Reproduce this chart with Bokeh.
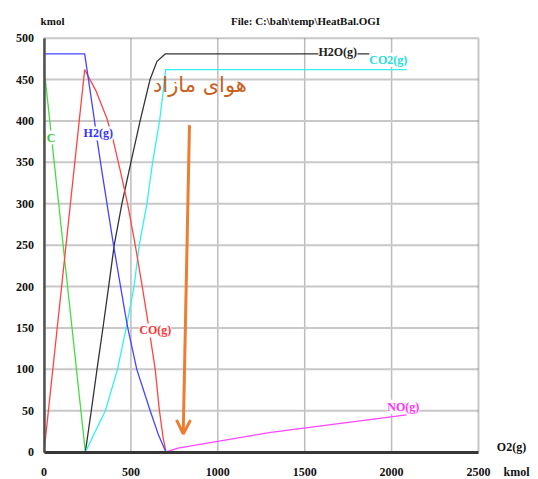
from bokeh.plotting import figure
from bokeh.models import Range1d, FixedTicker, Label, Arrow, OpenHead, BoxAnnotation
from bokeh.embed import file_html
from bokeh.resources import INLINE

# ---- data (kmol vs O2(g) kmol) ----
h2_x = [0, 234, 286, 305, 334, 400, 460, 481, 534, 611, 660, 702, 2086]
h2_y = [481, 481, 407, 378, 338, 250, 176, 151, 100, 50, 20, 0, 0]

co_x = [0, 234, 300, 362, 400, 439, 481, 525, 563, 600, 640, 663, 685, 702, 2086]
co_y = [0, 462, 436, 403, 375, 340, 300, 250, 203, 155, 100, 52, 18, 0, 0]

c_x = [0, 238, 2086]
c_y = [465, 0, 0]

h2o_x = [0, 238, 272, 305, 339, 372, 404, 448, 500, 553, 610, 650, 697, 1585]
h2o_y = [0, 0, 50, 100, 150, 200, 250, 300, 350, 400, 450, 472, 481, 481]
h2o_tail_x = [1803, 1875]
h2o_tail_y = [481, 481]

co2_x = [0, 238, 295, 353, 423, 473, 518, 548, 592, 625, 665, 690, 700, 2086]
co2_y = [0, 0, 25, 50, 100, 150, 200, 250, 300, 350, 400, 443, 462, 462]

no_x = [0, 702, 770, 1305, 2086]
no_y = [0, 0, 5, 24, 45]

x_min, x_max = 0, 2500
y_min, y_max = 0, 500
x_ticks = [0, 500, 1000, 1500, 2000, 2500]
y_ticks = [0, 50, 100, 150, 200, 250, 300, 350, 400, 450, 500]

# series labels: (text, x, y, color)
series_labels = [
    ("C", 41, 380, "#33cc33"),
    ("H2(g)", 312, 385, "#3333ff"),
    ("CO(g)", 640, 147, "#ff3333"),
    ("NO(g)", 2067, 55, "#ff33ff"),
    ("H2O(g)", 1690, 483, "#222222"),
    ("CO2(g)", 1981, 474, "#22e0e0"),
]

arrow_start = (837, 395)
arrow_end = (801, 22)
persian_text = "هوای مازاد"
persian_pos = (897, 443)

title_text = "File: C:\\bah\\temp\\HeatBal.OGI"
# texts around the plot box, in data units: (text, x, y, size)
outer_texts = [
    (title_text, 1505, 521, "11px"),
    ("kmol", 49, 521, "11px"),
    ("O2(g)", 2690, 6, "12px"),
    ("kmol", 2719, -24, "12px"),
]

p = figure(width=537, height=478, min_border=0,
           x_range=Range1d(-250.3, 2839.5), y_range=Range1d(-31.8, 545.5),
           output_backend="svg", toolbar_location=None)

p.outline_line_color = None
p.background_fill_color = "white"
p.border_fill_color = "white"
p.grid.visible = False

# grid lines drawn from the tick lists
vx = x_ticks[1:-1]
p.segment(x0=vx, y0=[y_min] * len(vx), x1=vx, y1=[y_max] * len(vx),
          line_color="#bdbdbd", line_width=1.5, level="underlay")
hy = y_ticks[1:-1]
p.segment(x0=[x_min] * len(hy), y0=hy, x1=[x_max] * len(hy), y1=hy,
          line_color="#c8c8c8", line_width=2, level="underlay")

for ax, ticks, bnds in ((p.xaxis[0], x_ticks, (x_min, x_max)),
                        (p.yaxis[0], y_ticks, (y_min, y_max))):
    ax.fixed_location = 0
    ax.bounds = bnds
    ax.ticker = FixedTicker(ticks=ticks)
    ax.major_tick_in = 0
    ax.major_tick_out = 0
    ax.minor_tick_in = 0
    ax.minor_tick_out = 0
    ax.major_label_text_font = "Liberation Serif"
    ax.major_label_text_font_style = "bold"
    ax.major_label_text_font_size = "12px"
    ax.major_label_text_color = "#111111"

p.yaxis.axis_line_color = "#555555"
p.yaxis.axis_line_width = 2.5
p.yaxis.major_label_standoff = 10
p.xaxis.axis_line_color = "#333333"
p.xaxis.axis_line_width = 3
p.xaxis.major_label_standoff = 16

p.add_layout(BoxAnnotation(left=x_min, right=x_max, bottom=y_min, top=y_max,
                           fill_alpha=0, line_color="#444444", line_width=2))

lw = 1.3
p.line(c_x, c_y, line_color="#44dd44", line_width=lw)
p.line(h2o_x, h2o_y, line_color="#333333", line_width=lw)
p.line(h2o_tail_x, h2o_tail_y, line_color="#333333", line_width=lw)
p.line(co2_x, co2_y, line_color="#33f0f0", line_width=lw)
p.line(co_x, co_y, line_color="#ff4444", line_width=lw)
p.line(h2_x, h2_y, line_color="#4444ff", line_width=lw)
p.line(no_x, no_y, line_color="#ff44ff", line_width=lw)

for txt, x, y, col in series_labels:
    p.add_layout(Label(x=x, y=y, text=txt, text_color=col,
                       text_font="Liberation Serif", text_font_style="bold",
                       text_font_size="12px", text_align="center",
                       text_baseline="middle",
                       background_fill_color="white", background_fill_alpha=1.0))

orange = "#ed7d31"
p.add_layout(Arrow(end=OpenHead(line_color=orange, line_width=3, size=14),
                   x_start=arrow_start[0], y_start=arrow_start[1],
                   x_end=arrow_end[0], y_end=arrow_end[1],
                   line_color=orange, line_width=3))

p.add_layout(Label(x=persian_pos[0], y=persian_pos[1], text=persian_text,
                   text_color="#c8621e", text_font="DejaVu Sans",
                   text_font_size="21px", text_align="center",
                   text_baseline="middle"))

for txt, x, y, size in outer_texts:
    p.add_layout(Label(x=x, y=y, text=txt, text_color="#111111",
                       text_font="Liberation Serif", text_font_style="bold",
                       text_font_size=size, text_align="center",
                       text_baseline="middle"))

open("out.html", "w").write(file_html(p, INLINE))
